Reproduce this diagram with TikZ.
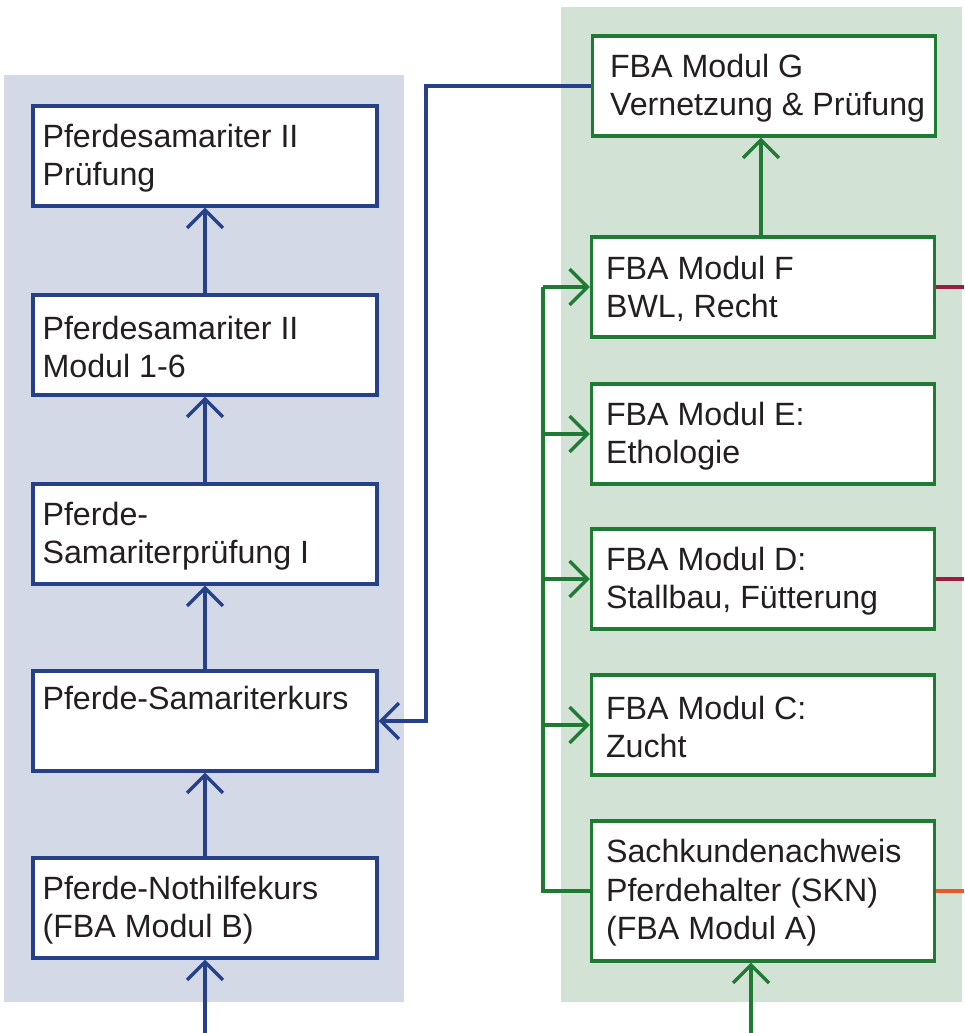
\documentclass[tikz,border=0pt]{standalone}
\usepackage{fontspec}
\setmainfont{Liberation Sans}
\usetikzlibrary{arrows.meta}
\definecolor{bluel}{HTML}{26408A}
\definecolor{greenl}{HTML}{1F7A34}
\definecolor{bluebg}{HTML}{D3D9E7}
\definecolor{greenbg}{HTML}{D2E2D4}
\definecolor{darkred}{HTML}{9A1D3F}
\definecolor{orangered}{HTML}{E9592A}
\definecolor{txt}{HTML}{231F20}
\begin{document}
\begin{tikzpicture}[x=1pt,y=-1pt,
  lbox/.style={draw=bluel, line width=3.3pt, fill=white, minimum width=344pt, minimum height=100pt, inner sep=0pt},
  rbox/.style={draw=greenl, line width=3.3pt, fill=white, minimum width=343pt, minimum height=100pt, inner sep=0pt},
  ltxt/.style={anchor=west, align=left, inner sep=0pt, text=txt, font=\fontsize{32.2}{38.5}\selectfont},
  bluearrow/.style={draw=bluel, line width=3.3pt, -{Straight Barb[length=18pt,width=36pt,line width=3.3pt]}},
  greenarrow/.style={draw=greenl, line width=3.3pt, -{Straight Barb[length=18pt,width=36pt,line width=3.3pt]}},
  greenline/.style={draw=greenl, line width=3.3pt},
  stub/.style={line width=3.3pt}
]
\useasboundingbox (0,0) rectangle (964,1033);
% panels
\fill[bluebg] (4,75) rectangle (404,1002);
\fill[greenbg] (561,7) rectangle (962,1002);

% left column
\node[lbox] (l1) at (205,156) {};
\node[lbox] (l2) at (205,345) {};
\node[lbox] (l3) at (205,534) {};
\node[lbox] (l4) at (205,721) {};
\node[lbox] (l5) at (205,908) {};
\node[ltxt] (t1) at ([xshift=11pt,yshift=-2pt]l1.west) {Pferdesamariter II\\Prüfung};
\node[ltxt] (t2) at ([xshift=11pt,yshift=-2pt]l2.west) {Pferdesamariter II\\Modul 1-6};
\node[ltxt] (t3) at ([xshift=11pt,yshift=-2pt]l3.west) {Pferde-\\Samariterprüfung I};
\node[ltxt] (t4) at ([xshift=11pt,yshift=-2pt]l4.west) {Pferde-Samariterkurs\\\strut};
\node[ltxt] (t5) at ([xshift=11pt,yshift=-2pt]l5.west) {Pferde-Nothilfekurs\\(FBA Modul B)};

% right column
\node[rbox] (g) at (764,86) {};
\node[rbox] (f) at (763,287) {};
\node[rbox] (e) at (763,434) {};
\node[rbox] (d) at (763,579) {};
\node[rbox] (c) at (763,725) {};
\node[rbox, minimum height=140pt] (a) at (763,891) {};
\node[ltxt] (tg) at ([xshift=19pt,yshift=-2pt]g.west) {FBA Modul G\\Vernetzung \& Prüfung};
\node[ltxt] (tf) at ([xshift=16pt,yshift=-2pt]f.west) {FBA Modul F\\BWL, Recht};
\node[ltxt] (te) at ([xshift=16pt,yshift=-2pt]e.west) {FBA Modul E:\\Ethologie};
\node[ltxt] (td) at ([xshift=16pt,yshift=-2pt]d.west) {FBA Modul D:\\Stallbau, Fütterung};
\node[ltxt] (tc) at ([xshift=16pt,yshift=-2pt]c.west) {FBA Modul C:\\Zucht};
\node[ltxt] (ta) at ([xshift=16pt,yshift=-2pt]a.west) {Sachkundenachweis\\Pferdehalter (SKN)\\(FBA Modul A)};

% left arrows
\coordinate (lin) at (205,1033);
\draw[bluearrow] (lin) -- (l5.south);
\draw[bluearrow] (l5.north) -- (l4.south);
\draw[bluearrow] (l4.north) -- (l3.south);
\draw[bluearrow] (l3.north) -- (l2.south);
\draw[bluearrow] (l2.north) -- (l1.south);
% blue cross link
\coordinate (bx) at (426,0);
\draw[bluearrow] (g.west) -- (bx |- g.west) -- (bx |- l4.east) -- (l4.east);

% right arrows
\coordinate (rin) at (751,1033);
\draw[greenarrow] (rin) -- (rin |- a.south);
\draw[greenarrow] (f.north -| 761,0) -- (g.south -| 761,0);
\coordinate (gx) at (543,0);
\draw[greenline] (a.west) -- (gx |- a.west) -- (gx |- f.west);
\draw[greenarrow] (gx |- f.west) -- (f.west);
\draw[greenarrow] (gx |- e.west) -- (e.west);
\draw[greenarrow] (gx |- d.west) -- (d.west);
\draw[greenarrow] (gx |- c.west) -- (c.west);

% outgoing stubs
\coordinate (rx) at (964,0);
\draw[stub, darkred] (f.east) -- (rx |- f.east);
\draw[stub, darkred] (d.east) -- (rx |- d.east);
\draw[stub, orangered] (a.east) -- (rx |- a.east);
\end{tikzpicture}
\end{document}
